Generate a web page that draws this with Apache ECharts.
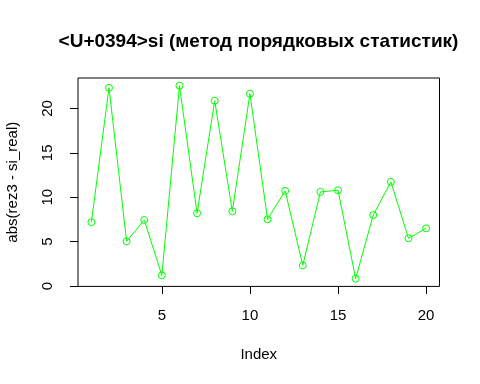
<!DOCTYPE html>
<html><head><meta charset="utf-8">
<script src="https://cdn.jsdelivr.net/npm/echarts@6/dist/echarts.min.js"></script>
<style>html,body{margin:0;padding:0;background:#fff}#c{width:480px;height:384px}</style>
</head><body><div id="c"></div>
<script>
const titleText = "<U+0394>si (метод порядковых статистик)";
const xName = "Index";
const yName = "abs(rez3 - si_real)";
const index = [1,2,3,4,5,6,7,8,9,10,11,12,13,14,15,16,17,18,19,20];
const values = [7.19,22.33,5.04,7.44,1.2,22.56,8.2,20.87,8.42,21.66,7.52,10.72,2.33,10.6,10.79,0.83,8.0,11.73,5.38,6.5];
const xTicks = [5,10,15,20];
const yTicks = [0,5,10,15,20];

const chart = echarts.init(document.getElementById('c'), null, {renderer:'canvas'});
const font = 'Liberation Sans, Arial, sans-serif';
chart.setOption({
  animation:false,
  backgroundColor:'#fff',
  graphic:[{type:'text', x:258.5, y:41.5, style:{text:titleText, fontFamily:font, fontWeight:'bold', fontSize:19, fill:'#000', textAlign:'center', textVerticalAlign:'middle'}}],
  grid:{left:78, right:40.5, top:78, bottom:97.6, show:true, borderColor:'#000', borderWidth:1, backgroundColor:'transparent', containLabel:false, outerBoundsMode:'none'},
  xAxis:{type:'value', min:0.24, max:20.76, name:xName, nameLocation:'middle', nameGap:61,
    nameTextStyle:{fontFamily:font, fontSize:15, color:'#000'},
    axisLine:{show:false}, splitLine:{show:false},
    axisTick:{show:true, inside:false, length:8, lineStyle:{color:'#000'}, customValues:xTicks},
    axisLabel:{show:true, margin:22, fontFamily:font, fontSize:15, color:'#000', customValues:xTicks}},
  yAxis:{type:'value', min:-0.04, max:23.43, name:yName, nameLocation:'middle', nameGap:58, nameRotate:90,
    nameTextStyle:{fontFamily:font, fontSize:15, color:'#000'},
    axisLine:{show:false}, splitLine:{show:false},
    axisTick:{show:true, inside:false, length:8, lineStyle:{color:'#000'}, customValues:yTicks},
    axisLabel:{show:true, margin:23, rotate:90, fontFamily:font, fontSize:15, color:'#000', customValues:yTicks}},
  series:[{type:'line', data:index.map((x,i)=>[x, values[i]]), symbol:'circle', symbolSize:7,
    lineStyle:{color:'#00ff00', width:1}, itemStyle:{color:'rgba(0,0,0,0)', borderColor:'#00ff00', borderWidth:1},
    emphasis:{disabled:true}}]
});
</script></body></html>
